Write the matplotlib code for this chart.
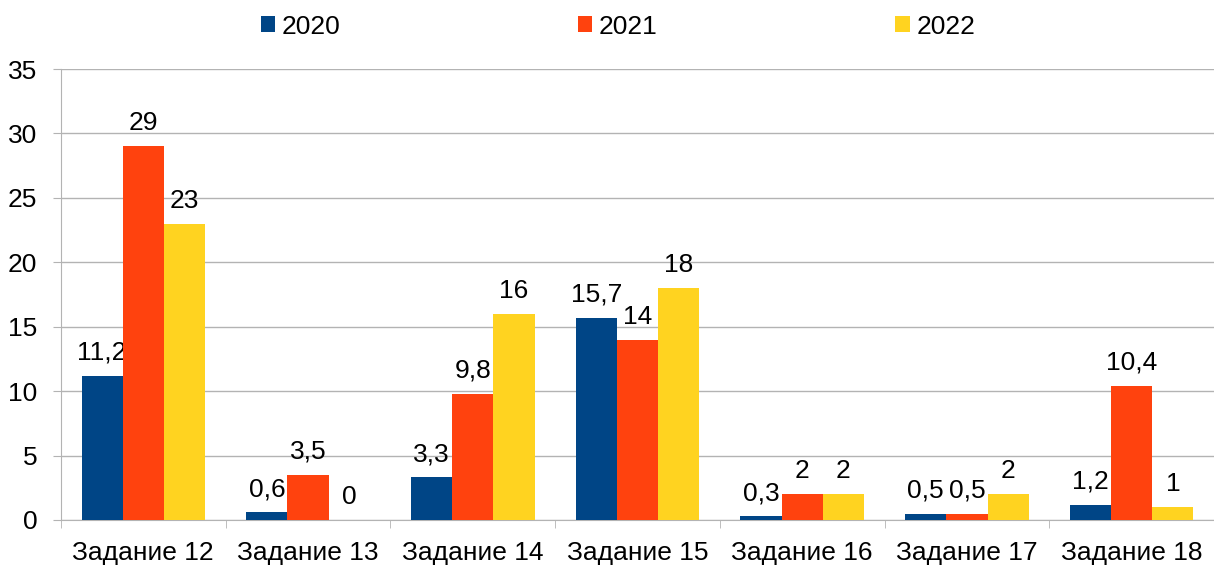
import matplotlib.pyplot as plt
from matplotlib.ticker import MultipleLocator
import numpy as np

# data
categories = ['Задание 12', 'Задание 13', 'Задание 14', 'Задание 15',
              'Задание 16', 'Задание 17', 'Задание 18']
years = ['2020', '2021', '2022']
values_2020 = [11.2, 0.6, 3.3, 15.7, 0.3, 0.5, 1.2]
values_2021 = [29, 3.5, 9.8, 14, 2, 0.5, 10.4]
values_2022 = [23, 0, 16, 18, 2, 2, 1]

colors = ['#004586', '#ff420e', '#ffd320']

plt.rcParams['font.family'] = ['Liberation Sans', 'DejaVu Sans']
fs = 19

fig = plt.figure(figsize=(12.14, 5.66), dpi=100, facecolor='white')
ax = fig.add_axes([0.0502, 0.0813, 0.9498, 0.7967])

x = np.arange(len(categories))
w = 0.25
series = [values_2020, values_2021, values_2022]

def fmt(v):
    s = ('%g' % v).replace('.', ',')
    return s

for i, (vals, yr) in enumerate(zip(series, years)):
    bars = ax.bar(x + (i - 1) * w, vals, width=w, color=colors[i], label=yr,
                  zorder=3)
    ax.bar_label(bars, labels=[fmt(v) for v in vals], padding=8, fontsize=fs)

ax.set_xlim(-0.5, len(categories) - 0.5)
ax.set_ylim(0, 35)
ax.yaxis.set_major_locator(MultipleLocator(5))
ax.grid(axis='y', color='#b3b3b3', linewidth=1, zorder=0)

ax.set_xticks(x)
ax.set_xticklabels(categories)
ax.set_xticks(np.arange(-0.5, len(categories), 1), minor=True)
ax.tick_params(axis='x', which='major', length=0, pad=15, labelsize=fs)
ax.tick_params(axis='x', which='minor', length=6, color='#b3b3b3')
ax.tick_params(axis='y', length=6, color='#b3b3b3', labelsize=fs, pad=11)

for side in ['top', 'right']:
    ax.spines[side].set_visible(False)
for side in ['left', 'bottom']:
    ax.spines[side].set_color('#b3b3b3')

fig.legend(loc='center', bbox_to_anchor=(0.509, 0.953), ncol=3, frameon=False,
           fontsize=fs, handlelength=0.55, handleheight=0.55, handletextpad=0.25,
           columnspacing=9.0)

fig.savefig('out.png', dpi=100)
